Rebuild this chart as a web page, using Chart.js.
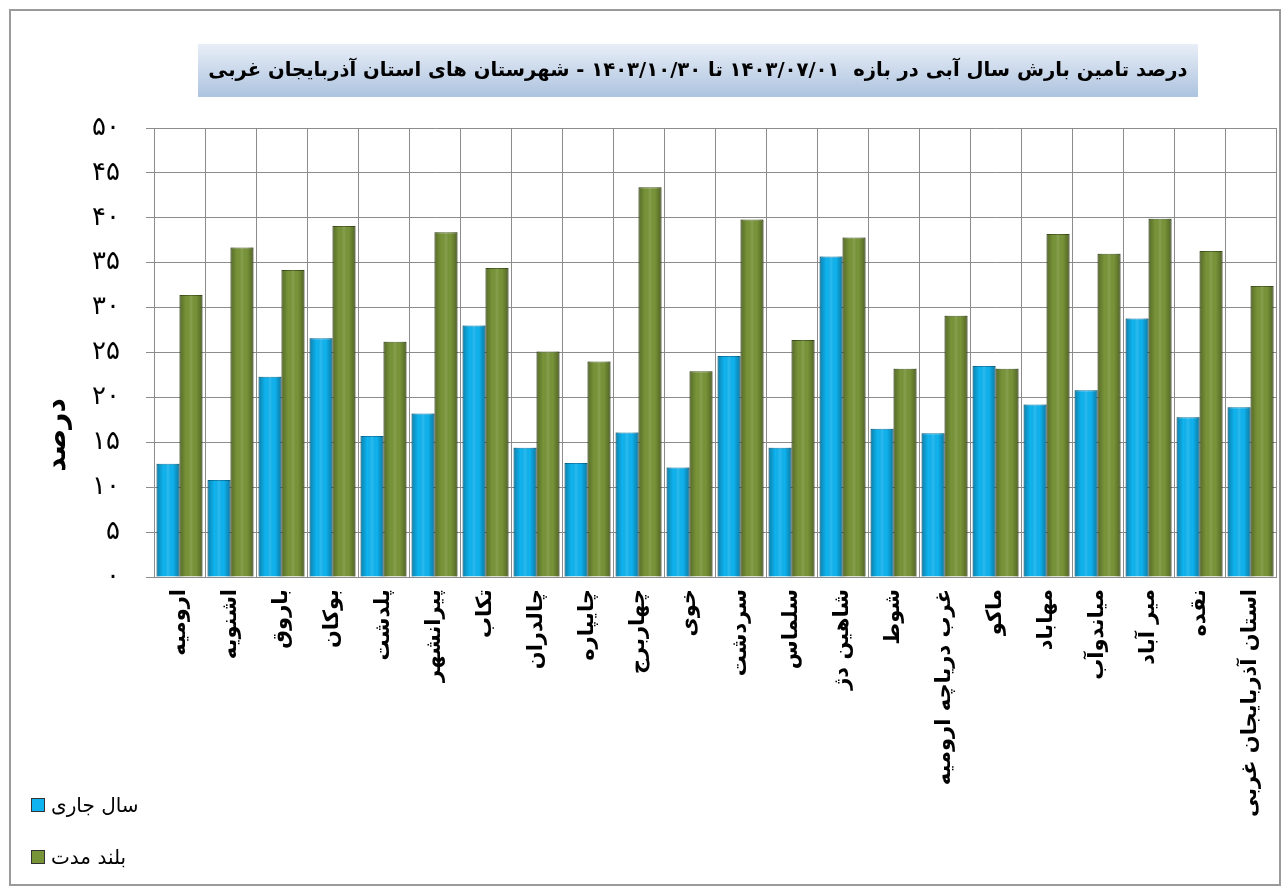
<!DOCTYPE html>
<html lang="fa">
<head>
<meta charset="utf-8">
<title>درصد تامین بارش</title>
<script src="https://cdn.jsdelivr.net/npm/chart.js@4.4.1/dist/chart.umd.min.js"></script>
<style>
  body { margin: 0; background: #ffffff; }
  #wrap { position: relative; width: 1288px; height: 896px; }
  #frame { position: absolute; left: 9px; top: 9px; width: 1272px; height: 877px; border: 2px solid #9a9a9a; box-sizing: border-box; pointer-events: none; }
  #legend { position: absolute; left: 31px; top: 792px; font-family: 'DejaVu Sans', sans-serif; font-size: 20px; color: #000; }
  .item { display: flex; align-items: center; height: 26px; margin-bottom: 26px; }
  .box { width: 12px; height: 12px; margin-right: 6px; border: 1px solid #333; }
</style>
</head>
<body>
<div id="wrap">
  <canvas id="chart" width="1288" height="896"></canvas>
  <div id="frame"></div>
  <div id="legend"></div>
</div>
<script>
// داده ها
const titleText = 'درصد تامین بارش سال آبی در بازه  ۱۴۰۳/۰۷/۰۱ تا ۱۴۰۳/۱۰/۳۰ - شهرستان های استان آذربایجان غربی';
const yAxisTitle = 'درصد';
const seriesNames = ['سال جاری', 'بلند مدت'];
const cities = ['ارومیه', 'اشنویه', 'باروق', 'بوکان', 'پلدشت', 'پیرانشهر', 'تکاب', 'چالدران', 'چایپاره', 'چهاربرج', 'خوی',
  'سردشت', 'سلماس', 'شاهین دژ', 'شوط', 'غرب دریاچه ارومیه', 'ماکو', 'مهاباد', 'میاندوآب', 'میر آباد', 'نقده', 'استان آذربایجان غربی'];
const currentYear = [12.6, 10.8, 22.3, 26.6, 15.7, 18.2, 28.0, 14.4, 12.7, 16.1, 12.2,
  24.6, 14.4, 35.7, 16.5, 16.0, 23.5, 19.2, 20.8, 28.8, 17.8, 18.9];
const longTerm = [31.4, 36.7, 34.2, 39.1, 26.2, 38.4, 34.4, 25.1, 24.0, 43.4, 22.9,
  39.8, 26.4, 37.8, 23.2, 29.1, 23.2, 38.2, 36.0, 39.9, 36.3, 32.4];
const yTickLabels = ['۰', '۵', '۱۰', '۱۵', '۲۰', '۲۵', '۳۰', '۳۵', '۴۰', '۴۵', '۵۰'];

const blue = '#0fb3ef';
const green = '#789438';
const fontFamily = "'DejaVu Sans', sans-serif";

// جعبه عنوان، سایه ستونها و عنوان محور عمودی
const decorPlugin = {
  id: 'decor',
  beforeDraw(chart) {
    const ctx = chart.ctx;
    ctx.save();
    const g = ctx.createLinearGradient(0, 44, 0, 97);
    g.addColorStop(0, '#e8eef7');
    g.addColorStop(1, '#adc3df');
    ctx.fillStyle = g;
    ctx.fillRect(198, 44, 1000, 53);
    ctx.restore();
  },
  afterDatasetsDraw(chart) {
    // سایه استوانه ای روی هر ستون (مختصات از خود Chart.js)
    const ctx = chart.ctx;
    ctx.save();
    chart.data.datasets.forEach(function(ds, i) {
      chart.getDatasetMeta(i).data.forEach(function(bar) {
        const left = bar.x - bar.width / 2;
        const g = ctx.createLinearGradient(left, 0, left + bar.width, 0);
        g.addColorStop(0, 'rgba(0,0,0,0.28)');
        g.addColorStop(0.3, 'rgba(0,0,0,0)');
        g.addColorStop(0.5, 'rgba(255,255,255,0.12)');
        g.addColorStop(0.7, 'rgba(0,0,0,0)');
        g.addColorStop(1, 'rgba(0,0,0,0.32)');
        ctx.fillStyle = g;
        ctx.fillRect(left, bar.y, bar.width, bar.base - bar.y);
      });
    });
    ctx.restore();
  },
  afterDraw(chart) {
    const ctx = chart.ctx;
    ctx.save();
    ctx.direction = 'rtl';
    ctx.fillStyle = '#000';
    ctx.textAlign = 'center';
    ctx.textBaseline = 'middle';
    ctx.font = 'bold 19.6px ' + fontFamily;
    ctx.fillText(titleText, 698, 71);

    ctx.translate(58, 435);
    ctx.rotate(-Math.PI / 2);
    ctx.font = 'bold 28px ' + fontFamily;
    ctx.fillText(yAxisTitle, 0, 0);
    ctx.restore();
  }
};

const ctx = document.getElementById('chart').getContext('2d');
const chart = new Chart(ctx, {
  type: 'bar',
  data: {
    labels: cities,
    datasets: [
      {
        label: seriesNames[0],
        data: currentYear,
        backgroundColor: blue,
        borderColor: '#0a7fae',
        borderWidth: 1,
        categoryPercentage: 0.9,
        barPercentage: 1.0
      },
      {
        label: seriesNames[1],
        data: longTerm,
        backgroundColor: green,
        borderColor: '#4a5f21',
        borderWidth: 1,
        categoryPercentage: 0.9,
        barPercentage: 1.0
      }
    ]
  },
  options: {
    responsive: false,
    animation: false,
    layout: { padding: { top: 128, right: 10, left: 0, bottom: 0 } },
    plugins: {
      legend: { display: false },
      tooltip: { enabled: false }
    },
    scales: {
      x: {
        grid: { color: '#8c8c8c', offset: true, drawTicks: false },
        border: { color: '#8c8c8c' },
        ticks: {
          autoSkip: false,
          minRotation: 90,
          maxRotation: 90,
          padding: 12,
          color: '#000',
          font: { family: fontFamily, size: 21, weight: 'bold' }
        },
        afterFit(scale) { scale.height = 896 - 577; }
      },
      y: {
        min: 0,
        max: 50,
        grid: { color: '#8c8c8c', tickLength: 8 },
        border: { color: '#8c8c8c' },
        ticks: {
          stepSize: 5,
          padding: 26,
          color: '#000',
          font: { family: fontFamily, size: 26 },
          callback: (v) => yTickLabels[Math.round(v / 5)]
        },
        afterFit(scale) { scale.width = 154; }
      }
    }
  },
  plugins: [decorPlugin]
});

// راهنما
const legend = document.getElementById('legend');
chart.data.datasets.forEach(function(ds) {
  const item = document.createElement('div');
  item.className = 'item';
  const box = document.createElement('span');
  box.className = 'box';
  box.style.background = ds.backgroundColor;
  const text = document.createElement('span');
  text.textContent = ds.label;
  item.appendChild(box);
  item.appendChild(text);
  legend.appendChild(item);
});
</script>
</body>
</html>
